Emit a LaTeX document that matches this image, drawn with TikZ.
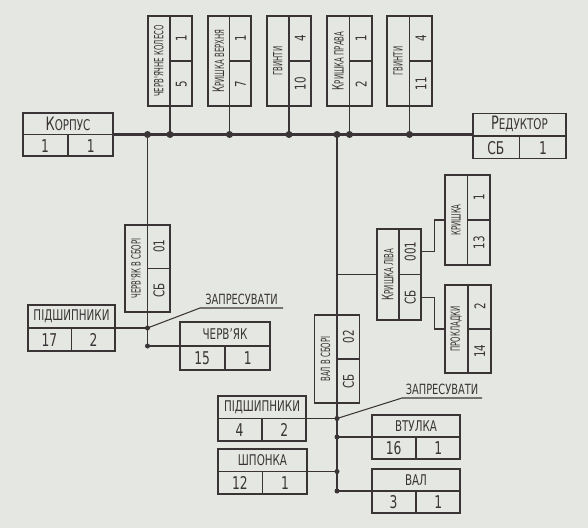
\documentclass[tikz,border=0pt]{standalone}
\usepackage{fontspec}
\setmainfont{DejaVu Sans}[FakeStretch=0.7]
\newfontfamily\vuzkyi{DejaVu Sans}[FakeStretch=0.55]
\usetikzlibrary{calc}
\definecolor{ink}{RGB}{58,52,54}
\definecolor{paper}{RGB}{229,232,226}
\def\pix{0.25mm}
\newcommand{\vk}[1]{\scalebox{1.25}{#1}}
\begin{document}
\begin{tikzpicture}[x=0.25mm,y=-0.25mm,
  blok/.style={draw=ink,line width=1pt,inner sep=0pt},
  ramka/.style={draw=ink,line width=1pt},
  tytul/.style={font=\fontsize{10.5}{11}\selectfont,text=ink,inner sep=0pt},
  chyslo/.style={font=\fontsize{12.5}{13}\selectfont,text=ink,inner sep=0pt},
  napys/.style={font=\fontsize{10}{10}\selectfont,text=ink,inner sep=0pt},
  zv/.style={draw=ink,line width=0.75pt},
  mag/.style={draw=ink,line width=2pt}]
\newcommand{\blok}[8]{%назва, центр, кут, ширина, висота, текст, номер, кількість
\node[blok,rotate=#3,minimum width=#4*\pix,minimum height=#5*\pix] (#1) at #2 {};%
\draw[ramka] (#1.west) -- (#1.east);%
\draw[ramka] (#1.center) -- (#1.south);%
\node[tytul,rotate=#3] (#1-t) at ($(#1.center)!0.5!(#1.north)$) {#6};%
\node[chyslo,rotate=#3] (#1-n) at ($(#1.center)!0.5!(#1.south west)$) {#7};%
\node[chyslo,rotate=#3] (#1-k) at ($(#1.center)!0.5!(#1.south east)$) {#8};%
}
\fill[paper] (0,0) rectangle (588,528);%папір
%горизонтальні блоки
\blok{korpus}{(68,134.5)}{0}{90}{43}{\vk{К}ОРПУС}{1}{1}
\blok{reduktor}{(519.5,136)}{0}{93}{45}{\vk{Р}ЕДУКТОР}{СБ}{1}
\blok{podsh1}{(71.5,328)}{0}{87}{46}{ПІДШИПНИКИ}{17}{2}
\blok{chervyak}{(225,346)}{0}{90}{48}{ЧЕРВ'ЯК}{15}{1}
\blok{podsh2}{(262,418.5)}{0}{88}{45}{ПІДШИПНИКИ}{4}{2}
\blok{vtulka}{(416,437)}{0}{88}{44}{ВТУЛКА}{16}{1}
\blok{shponka}{(262.5,471.5)}{0}{89}{45}{ШПОНКА}{12}{1}
\blok{val}{(416,491)}{0}{88}{44}{ВАЛ}{3}{1}
%вертикальні блоки
\begin{scope}[tytul/.append style={font=\vuzkyi\fontsize{9}{9}\selectfont},
  chyslo/.append style={font=\fontsize{10.5}{11}\selectfont}]
\blok{koleso}{(170,61)}{90}{90}{44}{ЧЕРВ'ЯЧНЕ КОЛЕСО}{5}{1}
\blok{kryshkaV}{(229.5,61)}{90}{90}{43}{\vk{К}РИШКА ВЕРХНЯ}{7}{1}
\blok{gvynty1}{(289,61)}{90}{90}{44}{ГВИНТИ}{10}{4}
\blok{kryshkaP}{(349.5,61)}{90}{90}{45}{\vk{К}РИШКА ПРАВА}{2}{1}
\blok{gvynty2}{(409.5,61)}{90}{90}{45}{ГВИНТИ}{11}{4}
\blok{chervZb}{(147.5,268.5)}{90}{87}{45}{ЧЕРВ'ЯК В СБОРІ}{СБ}{01}
\blok{valZb}{(337,359)}{90}{88}{45}{ВАЛ В СБОРІ}{СБ}{02}
\blok{kryshkaL}{(399,274.5)}{90}{91}{44}{\vk{К}РИШКА ЛІВА}{СБ}{001}
\blok{kryshka}{(467.5,220)}{90}{90}{45}{КРИШКА}{13}{1}
\blok{prokladky}{(468,329)}{90}{88}{46}{ПРОКЛАДКИ}{14}{2}
\end{scope}
%магістраль
\draw[mag] (korpus.east) -- (korpus.east -| reduktor.west);
\draw[zv] (koleso.west) -- (koleso.west |- korpus.east);
\draw[zv] (kryshkaV.west) -- (kryshkaV.west |- korpus.east);
\draw[zv] (gvynty1.west) -- (gvynty1.west |- korpus.east);
\draw[zv] (kryshkaP.west) -- (kryshkaP.west |- korpus.east);
\draw[zv] (gvynty2.west) -- (gvynty2.west |- korpus.east);
\fill[ink] (koleso.west |- korpus.east) circle (3.5);
\fill[ink] (kryshkaV.west |- korpus.east) circle (3.5);
\fill[ink] (gvynty1.west |- korpus.east) circle (3.5);
\fill[ink] (kryshkaP.west |- korpus.east) circle (3.5);
\fill[ink] (gvynty2.west |- korpus.east) circle (3.5);
%черв'як у зборі
\draw[zv] (chervZb.east |- korpus.east) -- (chervZb.east);
\draw[zv] (chervZb.west) -- (chervZb.west |- chervyak.west);
\draw[zv] (podsh1.east) -- (podsh1.east -| chervZb.west);
\draw[zv] (chervyak.west -| chervZb.west) -- (chervyak.west);
\fill[ink] (chervZb.east |- korpus.east) circle (3.5);
\fill[ink] (podsh1.east -| chervZb.west) circle (2.5);
\fill[ink] (chervyak.west -| chervZb.west) circle (2.5);
\coordinate (z1a) at (200,308);
\coordinate (z1b) at (283,308);
\draw[zv] (podsh1.east -| chervZb.west) -- (z1a) -- (z1b);
\node[napys,above=2pt] (z1) at ($(z1a)!0.5!(z1b)$) {ЗАПРЕСУВАТИ};
%вал у зборі
\draw[zv] (valZb.east |- korpus.east) -- (valZb.east);
\draw[zv] (valZb.west) -- (valZb.west |- val.west);
\draw[zv] (kryshkaL.north -| valZb.east) -- (kryshkaL.north);
\draw[zv] ($(kryshkaL.south)!0.5!(kryshkaL.south east)$) -- ++(13,0) |- (kryshka.north);
\draw[zv] ($(kryshkaL.south)!0.5!(kryshkaL.south west)$) -- ++(13,0) |- (prokladky.north);
\draw[zv] (podsh2.east) -- (podsh2.east -| valZb.west);
\draw[zv] (vtulka.west -| valZb.west) -- (vtulka.west);
\draw[zv] (shponka.east) -- (shponka.east -| valZb.west);
\draw[zv] (val.west -| valZb.west) -- (val.west);
\fill[ink] (valZb.east |- korpus.east) circle (3.5);
\fill[ink] (podsh2.east -| valZb.west) circle (2.5);
\fill[ink] (vtulka.west -| valZb.west) circle (2.5);
\fill[ink] (shponka.east -| valZb.west) circle (2.5);
\fill[ink] (val.west -| valZb.west) circle (2.5);
\coordinate (z2a) at (402,398);
\coordinate (z2b) at (482,398);
\draw[zv] (podsh2.east -| valZb.west) -- (z2a) -- (z2b);
\node[napys,above=2pt] (z2) at ($(z2a)!0.5!(z2b)$) {ЗАПРЕСУВАТИ};
\end{tikzpicture}
\end{document}
